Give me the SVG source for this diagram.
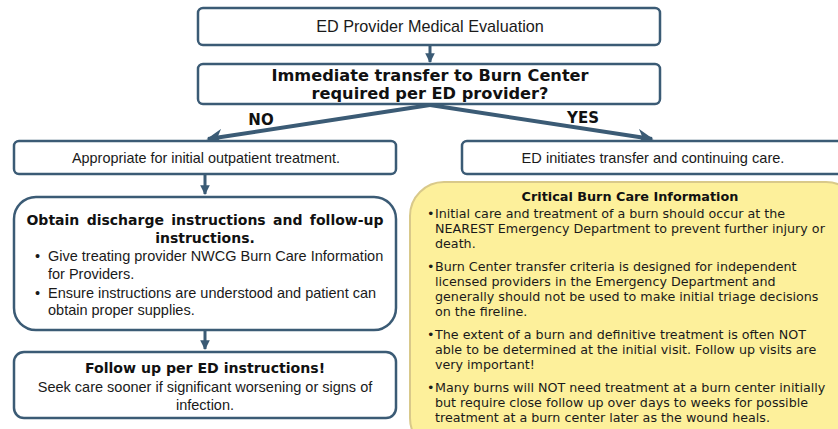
<svg xmlns="http://www.w3.org/2000/svg" width="838" height="429" viewBox="0 0 838 429">
<defs>
<style>
.box{fill:#fff;stroke:#3b5b75;stroke-width:2.5}
.info{fill:#fdf09b;stroke:#d9c98a;stroke-width:2}
.cal{font-family:"Liberation Sans",Arial,sans-serif;fill:#1a1a1a}
.vb{font-family:"DejaVu Sans",Verdana,sans-serif;font-weight:bold;fill:#111}
.v{font-family:"DejaVu Sans",Verdana,sans-serif;fill:#1a1a1a}
.con{stroke:#3b5b75;fill:none}
</style>
<marker id="ah" viewBox="0 0 10 10" refX="9" refY="5" markerWidth="4" markerHeight="4" orient="auto" markerUnits="strokeWidth">
<path d="M0,0 L10,5 L0,10 L3,5 z" fill="#3b5b75"/>
</marker>
<marker id="ah2" viewBox="0 0 10 10" refX="9" refY="5" markerWidth="3.2" markerHeight="3.5" orient="auto" markerUnits="strokeWidth">
<path d="M0,0 L10,5 L0,10 z" fill="#3b5b75"/>
</marker>
</defs>
<rect width="838" height="429" fill="#fff"/>
<g id="connectors">
<line class="con" x1="430" y1="46" x2="430" y2="62" stroke-width="3" marker-end="url(#ah2)"/>
<line class="con" x1="430" y1="105" x2="208" y2="139" stroke-width="4" marker-end="url(#ah)"/>
<line class="con" x1="430" y1="105" x2="652" y2="139" stroke-width="4" marker-end="url(#ah)"/>
<line class="con" x1="205" y1="175" x2="205" y2="194" stroke-width="3" marker-end="url(#ah2)"/>
<line class="con" x1="205" y1="331" x2="205" y2="349" stroke-width="3" marker-end="url(#ah2)"/>
<text class="vb" x="261" y="125" font-size="15" text-anchor="middle">NO</text>
<text class="vb" x="583" y="123" font-size="15" text-anchor="middle">YES</text>
</g>
<g id="n1">
<rect class="box" x="198" y="8" width="462" height="37" rx="5"/>
<text class="cal" x="430" y="32" font-size="16.2" text-anchor="middle">ED Provider Medical Evaluation</text>
</g>
<g id="n2">
<rect class="box" x="198" y="64" width="462" height="40" rx="5"/>
<text class="vb" x="430" y="81" font-size="16.2" text-anchor="middle">Immediate transfer to Burn Center</text>
<text class="vb" x="430" y="99" font-size="16.2" text-anchor="middle">required per ED provider?</text>
</g>
<g id="n3">
<rect class="box" x="14" y="141" width="382" height="33" rx="5"/>
<text class="cal" x="206" y="163" font-size="14.4" text-anchor="middle">Appropriate for initial outpatient treatment.</text>
</g>
<g id="n4">
<rect class="box" x="462" y="141" width="390" height="33" rx="5"/>
<text class="cal" x="653" y="163" font-size="14.6" text-anchor="middle">ED initiates transfer and continuing care.</text>
</g>
<g id="n5">
<rect class="box" x="14" y="197" width="382" height="133" rx="22"/>
<text class="vb" x="205" y="225" font-size="14" text-anchor="middle" word-spacing="2.5">Obtain discharge instructions and follow-up</text>
<text class="vb" x="205" y="243" font-size="14" text-anchor="middle">instructions.</text>
<g class="cal" font-size="14.5">
<text x="35" y="261">•</text>
<text x="48" y="261">Give treating provider NWCG Burn Care Information</text>
<text x="48" y="279">for Providers.</text>
<text x="35" y="298">•</text>
<text x="48" y="298">Ensure instructions are understood and patient can</text>
<text x="48" y="315">obtain proper supplies.</text>
</g>
</g>
<g id="n6">
<rect class="box" x="14" y="352" width="382" height="66" rx="10"/>
<text class="vb" x="205" y="373" font-size="14.1" text-anchor="middle">Follow up per ED instructions!</text>
<text class="cal" x="205" y="392" font-size="14.5" text-anchor="middle">Seek care sooner if significant worsening or signs of</text>
<text class="cal" x="205" y="410" font-size="14.5" text-anchor="middle">infection.</text>
</g>
<g id="n7">
<rect class="info" x="410" y="182" width="450" height="270" rx="34"/>
<text class="vb" x="630" y="201" font-size="12.8" text-anchor="middle">Critical Burn Care Information</text>
<g class="v" font-size="12.7">
<text x="427" y="218">•</text>
<text x="435" y="218">Initial care and treatment of a burn should occur at the</text>
<text x="435" y="233">NEAREST Emergency Department to prevent further injury or</text>
<text x="435" y="248">death.</text>
<text x="427" y="271">•</text>
<text x="435" y="271">Burn Center transfer criteria is designed for independent</text>
<text x="435" y="286">licensed providers in the Emergency Department and</text>
<text x="435" y="301">generally should not be used to make initial triage decisions</text>
<text x="435" y="316">on the fireline.</text>
<text x="427" y="339">•</text>
<text x="435" y="339">The extent of a burn and definitive treatment is often NOT</text>
<text x="435" y="354">able to be determined at the initial visit. Follow up visits are</text>
<text x="435" y="369">very important!</text>
<text x="427" y="392">•</text>
<text x="435" y="392">Many burns will NOT need treatment at a burn center initially</text>
<text x="435" y="407">but require close follow up over days to weeks for possible</text>
<text x="435" y="422">treatment at a burn center later as the wound heals.</text>
</g>
</g>
</svg>
